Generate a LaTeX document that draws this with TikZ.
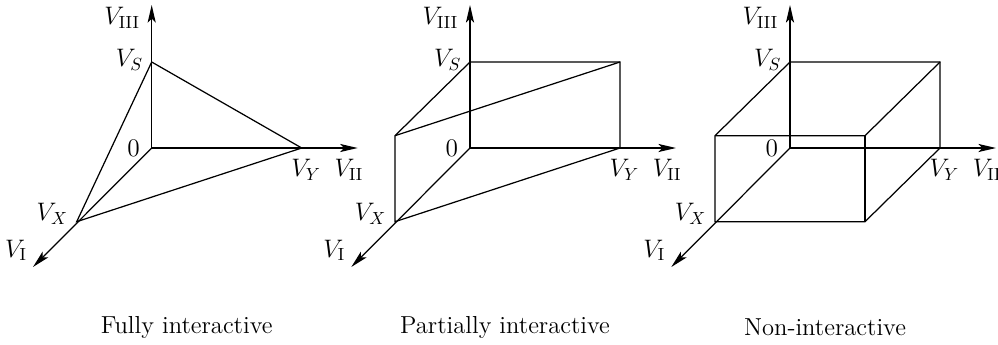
\documentclass[tikz,border=0pt]{standalone}
\usepackage{tikz}
\usetikzlibrary{arrows.meta,calc}

\begin{document}
\begin{tikzpicture}[
    x=0.02cm, y=-0.02cm,
    font=\fontsize{14pt}{17pt}\selectfont,
    axis/.style={-{Stealth[length=10pt, width=4.6pt, inset=2.2pt]}, line width=0.7pt},
    edge/.style={line width=0.7pt},
    caption/.style={font=\fontsize{14pt}{17pt}\selectfont},
    lab/.style={inner sep=3.3pt},
]
\useasboundingbox (0,0) rectangle (998,345);

% ---- Fully interactive ----
\begin{scope}[shift={(151.7,148)}]
  \coordinate (o1) at (0,0);
  \coordinate (s1) at (0,-86);
  \coordinate (y1) at (150,0);
  \coordinate (x1) at (-75,73.7);
  \coordinate (a1) at (0,-143);
  \coordinate (b1) at (206,0);
  \coordinate (c1) at (-118.7,119);
  \draw[axis] (o1) -- (a1);
  \draw[axis] (o1) -- (b1);
  \draw[axis] (o1) -- (c1);
  \draw[edge] (s1) -- (y1) -- (x1) -- cycle;
  \node[lab, left, xshift=-3.3pt] at (0,-130) {$V_{\mathrm{III}}$};
  \node[lab, left, xshift=-1.5pt, yshift=1pt] at (s1) {$V_S$};
  \node[lab, left, xshift=-3.3pt] at (o1) {$0$};
  \node[lab, below, xshift=2.5pt, yshift=-3pt] at (y1) {$V_Y$};
  \node[lab, below, xshift=-5pt, yshift=-3pt] at (b1) {$V_{\mathrm{II}}$};
  \node[lab, left, xshift=-1.5pt, yshift=4.5pt] at (x1) {$V_X$};
  \node[lab, above left] at (c1) {$V_{\mathrm{I}}$};
  \node[caption] (cap1) at (35,179) {Fully interactive};
\end{scope}

% ---- Partially interactive ----
\begin{scope}[shift={(470,148)}]
  \coordinate (o2) at (0,0);
  \coordinate (s2) at (0,-86);
  \coordinate (y2) at (150,0);
  \coordinate (x2) at (-75,73.7);
  \coordinate (t2) at (150,-86);
  \coordinate (f2) at (-75,-12.3);
  \coordinate (a2) at (0,-143);
  \coordinate (b2) at (206,0);
  \coordinate (c2) at (-118.7,119);
  \draw[axis] (o2) -- (a2);
  \draw[axis] (o2) -- (b2);
  \draw[axis] (o2) -- (c2);
  \draw[edge] (s2) -- (t2) -- (y2) -- (x2) -- (f2) -- cycle;
  \draw[edge] (f2) -- (t2);
  \node[lab, left, xshift=-3.3pt] at (0,-130) {$V_{\mathrm{III}}$};
  \node[lab, left, xshift=-1.5pt, yshift=1pt] at (s2) {$V_S$};
  \node[lab, left, xshift=-3.3pt] at (o2) {$0$};
  \node[lab, below, xshift=2.5pt, yshift=-3pt] at (y2) {$V_Y$};
  \node[lab, below, xshift=-5pt, yshift=-3pt] at (b2) {$V_{\mathrm{II}}$};
  \node[lab, left, xshift=-1.5pt, yshift=4.5pt] at (x2) {$V_X$};
  \node[lab, above left] at (c2) {$V_{\mathrm{I}}$};
  \node[caption] (cap2) at (35,179) {Partially interactive};
\end{scope}

% ---- Non-interactive ----
\begin{scope}[shift={(790,148)}]
  \coordinate (o3) at (0,0);
  \coordinate (s3) at (0,-86);
  \coordinate (y3) at (150,0);
  \coordinate (x3) at (-75,73.7);
  \coordinate (t3) at (150,-86);
  \coordinate (f3) at (-75,-12.3);
  \coordinate (g3) at (75,-12.3);
  \coordinate (h3) at (75,73.7);
  \coordinate (a3) at (0,-143);
  \coordinate (b3) at (206,0);
  \coordinate (c3) at (-118.7,119);
  \draw[axis] (o3) -- (a3);
  \draw[axis] (o3) -- (b3);
  \draw[axis] (o3) -- (c3);
  \draw[edge] (s3) -- (t3) -- (y3) -- (h3) -- (x3) -- (f3) -- cycle;
  \draw[edge] (f3) -- (g3) -- (t3);
  \draw[edge] (g3) -- (h3);
  \node[lab, left, xshift=-3.3pt] at (0,-130) {$V_{\mathrm{III}}$};
  \node[lab, left, xshift=-1.5pt, yshift=1pt] at (s3) {$V_S$};
  \node[lab, left, xshift=-3.3pt] at (o3) {$0$};
  \node[lab, below, xshift=2.5pt, yshift=-3pt] at (y3) {$V_Y$};
  \node[lab, below, xshift=-5pt, yshift=-3pt] at (b3) {$V_{\mathrm{II}}$};
  \node[lab, left, xshift=-1.5pt, yshift=4.5pt] at (x3) {$V_X$};
  \node[lab, above left] at (c3) {$V_{\mathrm{I}}$};
  \node[caption] (cap3) at (35,179) {Non-interactive};
\end{scope}

\end{tikzpicture}
\end{document}
